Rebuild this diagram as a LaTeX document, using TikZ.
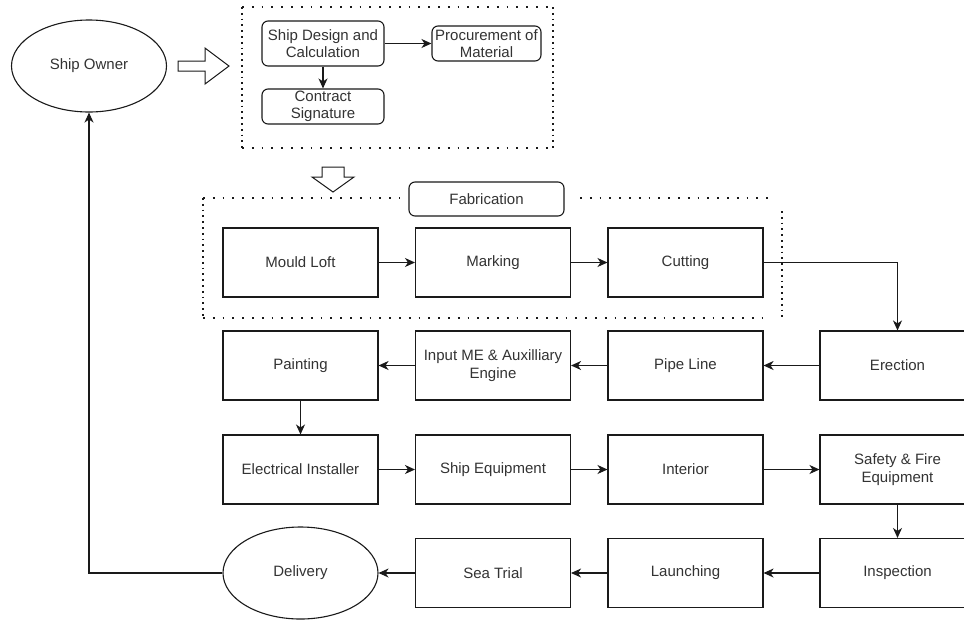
\documentclass[tikz,border=0pt]{standalone}
\usepackage{fontspec}
\setmainfont{Liberation Sans}
\usetikzlibrary{shapes.geometric,arrows.meta}
\definecolor{txt}{HTML}{333333}
\definecolor{ln}{HTML}{1A1A1A}
\tikzset{
  basebox/.style={draw=ln, line width=1.1pt, inner sep=0pt, align=center, text=txt,
    font=\fontsize{15}{17.3}\selectfont, fill=white},
  sqbox/.style={basebox, minimum width=155pt, minimum height=69pt},
  rbox/.style={basebox, rounded corners=6pt},
  ell/.style={basebox, ellipse, minimum width=155pt, minimum height=92pt},
  arr/.style={draw=ln, line width=1.1pt, -{Stealth[length=10pt,width=9pt,inset=3pt]}},
  hdots/.style={draw=ln, line width=1.8pt, dash pattern=on 1.8pt off 8pt},
  vdots/.style={draw=ln, line width=1.8pt, dash pattern=on 1.8pt off 4pt},
  hollow/.style={draw=ln, line width=1pt, fill=white},
}
\begin{document}
\begin{tikzpicture}[x=1pt,y=-1pt]
\useasboundingbox (0,0) rectangle (964,619);
\fill[white] (0,0) rectangle (964,619);

% dotted groups
\draw[hdots] (242,7) -- (553,7);
\draw[hdots] (242,148) -- (553,148);
\draw[vdots] (242,7) -- (242,148);
\draw[vdots] (553,7) -- (553,148);

\draw[hdots] (203,198) -- (400,198);
\draw[hdots] (580,198) -- (770,198);
\draw[hdots] (203,318) -- (770,318);
\draw[vdots] (203,198) -- (203,318);
\draw[vdots] (782,211) -- (782,318);

% hollow block arrows
\draw[hollow] (178,61) -- (205,61) -- (205,48) -- (229,66) -- (205,84) -- (205,71) -- (178,71) -- cycle;
\draw[hollow] (322,167) -- (344,167) -- (344,177) -- (354,177) -- (333,192) -- (312,177) -- (322,177) -- cycle;

% nodes
\node[ell] (owner) at (89,66) {Ship Owner};
\node[rbox, minimum width=122pt, minimum height=45pt] (design) at (323,43.5) {Ship Design and\\Calculation};
\node[rbox, minimum width=109pt, minimum height=35pt] (proc) at (486.5,43.5) {Procurement of\\Material};
\node[rbox, minimum width=122pt, minimum height=35pt] (contract) at (323,106.5) {Contract\\Signature};
\node[rbox, minimum width=155pt, minimum height=34pt] (fab) at (486.5,199) {Fabrication};

\node[sqbox] (mould) at (300.5,262.5) {Mould Loft};
\node[sqbox] (marking) at (493,262.5) {Marking};
\node[sqbox] (cutting) at (685.5,262.5) {Cutting};

\node[sqbox] (painting) at (300.5,365.5) {Painting};
\node[sqbox] (inputme) at (493,365.5) {Input ME \& Auxilliary\\Engine};
\node[sqbox] (pipe) at (685.5,365.5) {Pipe Line};
\node[sqbox] (erection) at (897.5,365.5) {Erection};

\node[sqbox] (elec) at (300.5,469.5) {Electrical Installer};
\node[sqbox] (shipeq) at (493,469.5) {Ship Equipment};
\node[sqbox] (interior) at (685.5,469.5) {Interior};
\node[sqbox] (safety) at (897.5,469.5) {Safety \& Fire\\Equipment};

\node[ell] (delivery) at (300.5,573) {Delivery};
\node[sqbox] (seatrial) at (493,573) {Sea Trial};
\node[sqbox] (launching) at (685.5,573) {Launching};
\node[sqbox] (inspection) at (897.5,573) {Inspection};

% connectors
\draw[arr] (design) -- (proc);
\draw[arr] (design) -- (contract);
\draw[arr] (mould) -- (marking);
\draw[arr] (marking) -- (cutting);
\draw[arr] (cutting) -| (erection);
\draw[arr] (erection) -- (pipe);
\draw[arr] (pipe) -- (inputme);
\draw[arr] (inputme) -- (painting);
\draw[arr] (painting) -- (elec);
\draw[arr] (elec) -- (shipeq);
\draw[arr] (shipeq) -- (interior);
\draw[arr] (interior) -- (safety);
\draw[arr] (safety) -- (inspection);
\draw[arr] (inspection) -- (launching);
\draw[arr] (launching) -- (seatrial);
\draw[arr] (seatrial) -- (delivery);
\draw[arr] (delivery.west) -| (owner.south);
\end{tikzpicture}
\end{document}
